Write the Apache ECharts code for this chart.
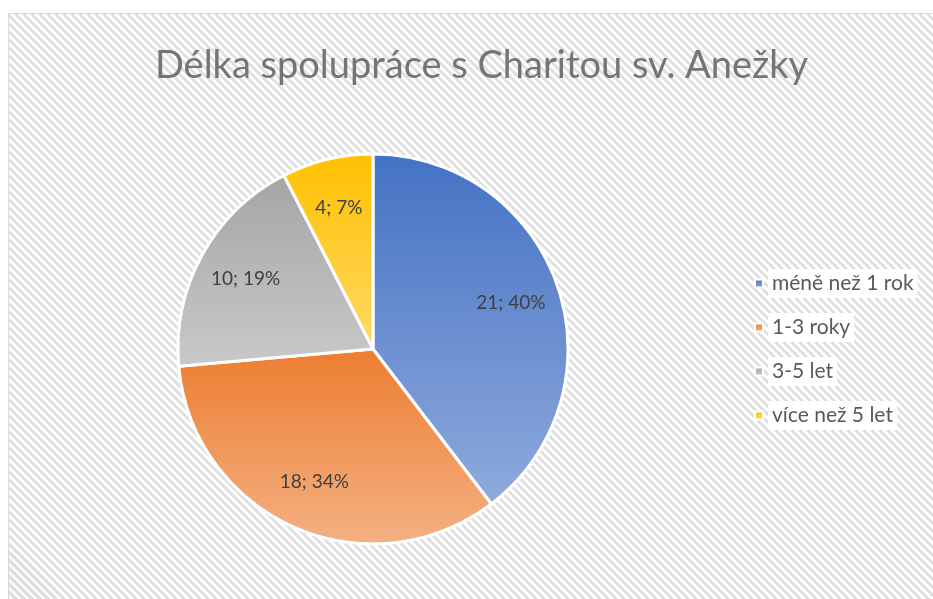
<!DOCTYPE html>
<html>
<head>
<meta charset="utf-8">
<script src="https://cdn.jsdelivr.net/npm/echarts@6/dist/echarts.min.js"></script>
<style>
  html, body { margin: 0; padding: 0; width: 933px; height: 599px; overflow: hidden; background: #fff; }
  #main {
    position: absolute; left: 8px; top: 13px; width: 945px; height: 600px;
    border: 1px solid #d9d9d9;
    background: repeating-linear-gradient(45deg, #ffffff 0px, #ffffff 2.8px, #e0e0e0 2.8px, #e0e0e0 5.66px);
  }
</style>
</head>
<body>
<div id="main"></div>
<script>
// kategorie a hodnoty
const categories = ["méně než 1 rok", "1-3 roky", "3-5 let", "více než 5 let"];
const values = [21, 18, 10, 4];
// barvy (horní / dolní část přechodu)
const topColors = ["#4472C4", "#ED7D31", "#A5A5A5", "#FFC000"];
const bottomColors = ["#8FAADC", "#F4B183", "#C9C9C9", "#FFD966"];

const myChart = echarts.init(document.getElementById("main"));

const pieData = categories.map((name, i) => ({
  name: name,
  value: values[i],
  itemStyle: {
    color: new echarts.graphic.LinearGradient(0, 0, 0, 1, [
      { offset: 0, color: topColors[i] },
      { offset: 1, color: bottomColors[i] },
    ]),
  },
}));

const option = {
  animation: false,
  title: {
    text: "Délka spolupráce s Charitou sv. Anežky",
    left: "center",
    top: 28,
    textStyle: {
      fontFamily: "Lato",
      fontSize: 38,
      fontWeight: "normal",
      color: "#757575",
    },
  },
  legend: {
    orient: "vertical",
    left: 740,
    top: 250,
    itemWidth: 8,
    itemHeight: 8,
    itemGap: 15,
    itemTextGap: 10,
    icon: "rect",
    data: categories,
    textStyle: {
      fontFamily: "Lato",
      fontSize: 21,
      color: "#595959",
      backgroundColor: "#fff",
      padding: [4, 4, 4, 4],
    },
  },
  series: [
    {
      name: "Délka spolupráce",
      type: "pie",
      center: [364, 335],
      radius: 195,
      startAngle: 90,
      clockwise: true,
      data: pieData,
      itemStyle: { borderColor: "#fff", borderWidth: 3 },
      label: { show: false },
      labelLine: { show: false },
    },
    {
      // jen popisky
      name: "popisky",
      type: "pie",
      center: [364, 335],
      radius: [90, 195],
      startAngle: 90,
      silent: true,
      percentPrecision: 0,
      data: categories.map((name, i) => ({ name: name, value: values[i] })),
      itemStyle: { color: "transparent" },
      label: {
        show: true,
        position: "inside",
        formatter: "{c}; {d}%",
        fontFamily: "Lato",
        fontSize: 19,
        color: "#404040",
      },
      labelLine: { show: false },
    },
  ],
};

myChart.setOption(option);
</script>
</body>
</html>
